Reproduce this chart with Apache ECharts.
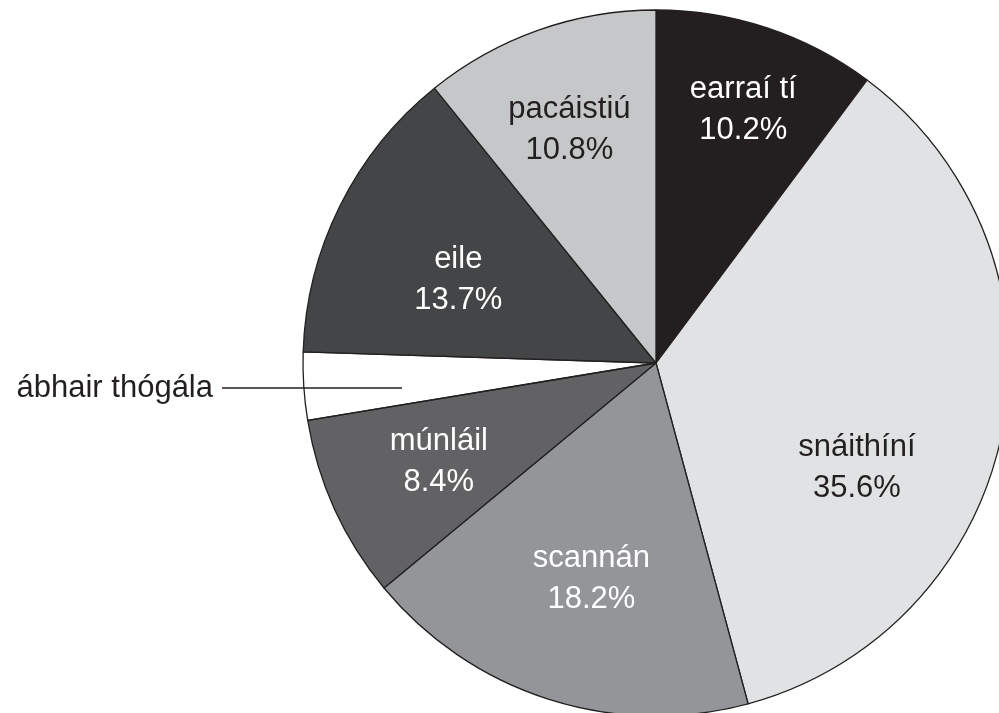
<!DOCTYPE html>
<html>
<head>
<meta charset="utf-8">
<script src="https://cdn.jsdelivr.net/npm/echarts@6/dist/echarts.min.js"></script>
<style>
html,body{margin:0;padding:0;background:#fff;}
#chart{width:999px;height:713px;}
</style>
</head>
<body>
<div id="chart"></div>
<script>
const categories = ['earraí tí', 'snáithíní', 'scannán', 'múnláil', 'ábhair thógála', 'eile', 'pacáistiú'];
const values = [10.2, 35.6, 18.2, 8.4, 3.1, 13.7, 10.8];

// styling
const colors = ['#231f20', '#e1e2e3', '#939598', '#626264', 'rgba(255,255,255,0)', '#444547', '#c6c7c8'];
const textColors = ['#ffffff', '#231f20', '#ffffff', '#ffffff', '#231f20', '#ffffff', '#231f20'];
const labelAngle = [19.0, 117.5, 196.7, 245.6, 0, 292.8, 339.6]; // degrees clockwise from top
const labelRadius = [268, 226.5, 225, 238.5, 0, 214.5, 248.5];
const CX = 656, CY = 363, R = 353;

const chart = echarts.init(document.getElementById('chart'), null, {renderer: 'canvas'});

const data = categories.map((c, i) => {
  const item = {
    name: c,
    value: values[i],
    itemStyle: {color: colors[i]},
    label: {color: textColors[i]}
  };
  if (i === 4) {
    item.label = {
      show: true, position: 'outside', color: '#231f20',
      formatter: '{b}', fontSize: 31
    };
    item.labelLine = {show: true, lineStyle: {color: '#231f20', width: 1.3}};
  }
  return item;
});

chart.setOption({
  animation: false,
  backgroundColor: '#ffffff',
  series: [{
    type: 'pie',
    center: [CX, CY],
    radius: [0, R],
    startAngle: 90,
    clockwise: true,
    avoidLabelOverlap: false,
    itemStyle: {borderColor: '#231f20', borderWidth: 1.3},
    label: {
      show: true,
      position: 'inside',
      fontFamily: 'Liberation Sans, Arial, sans-serif',
      fontSize: 31,
      lineHeight: 41,
      align: 'center',
      formatter: p => p.name + '\n' + p.value.toFixed(1) + '%'
    },
    labelLine: {show: false},
    emphasis: {disabled: true},
    labelLayout: function (params) {
      const i = params.dataIndex;
      if (i === 4) {
        return {
          x: 213, y: 388, align: 'right', verticalAlign: 'middle',
          labelLinePoints: [[222, 388], [312, 388], [402, 388]]
        };
      }
      const a = labelAngle[i] * Math.PI / 180;
      return {
        x: CX + labelRadius[i] * Math.sin(a),
        y: CY - labelRadius[i] * Math.cos(a),
        align: 'center', verticalAlign: 'middle'
      };
    },
    data: data
  }]
});
</script>
</body>
</html>
